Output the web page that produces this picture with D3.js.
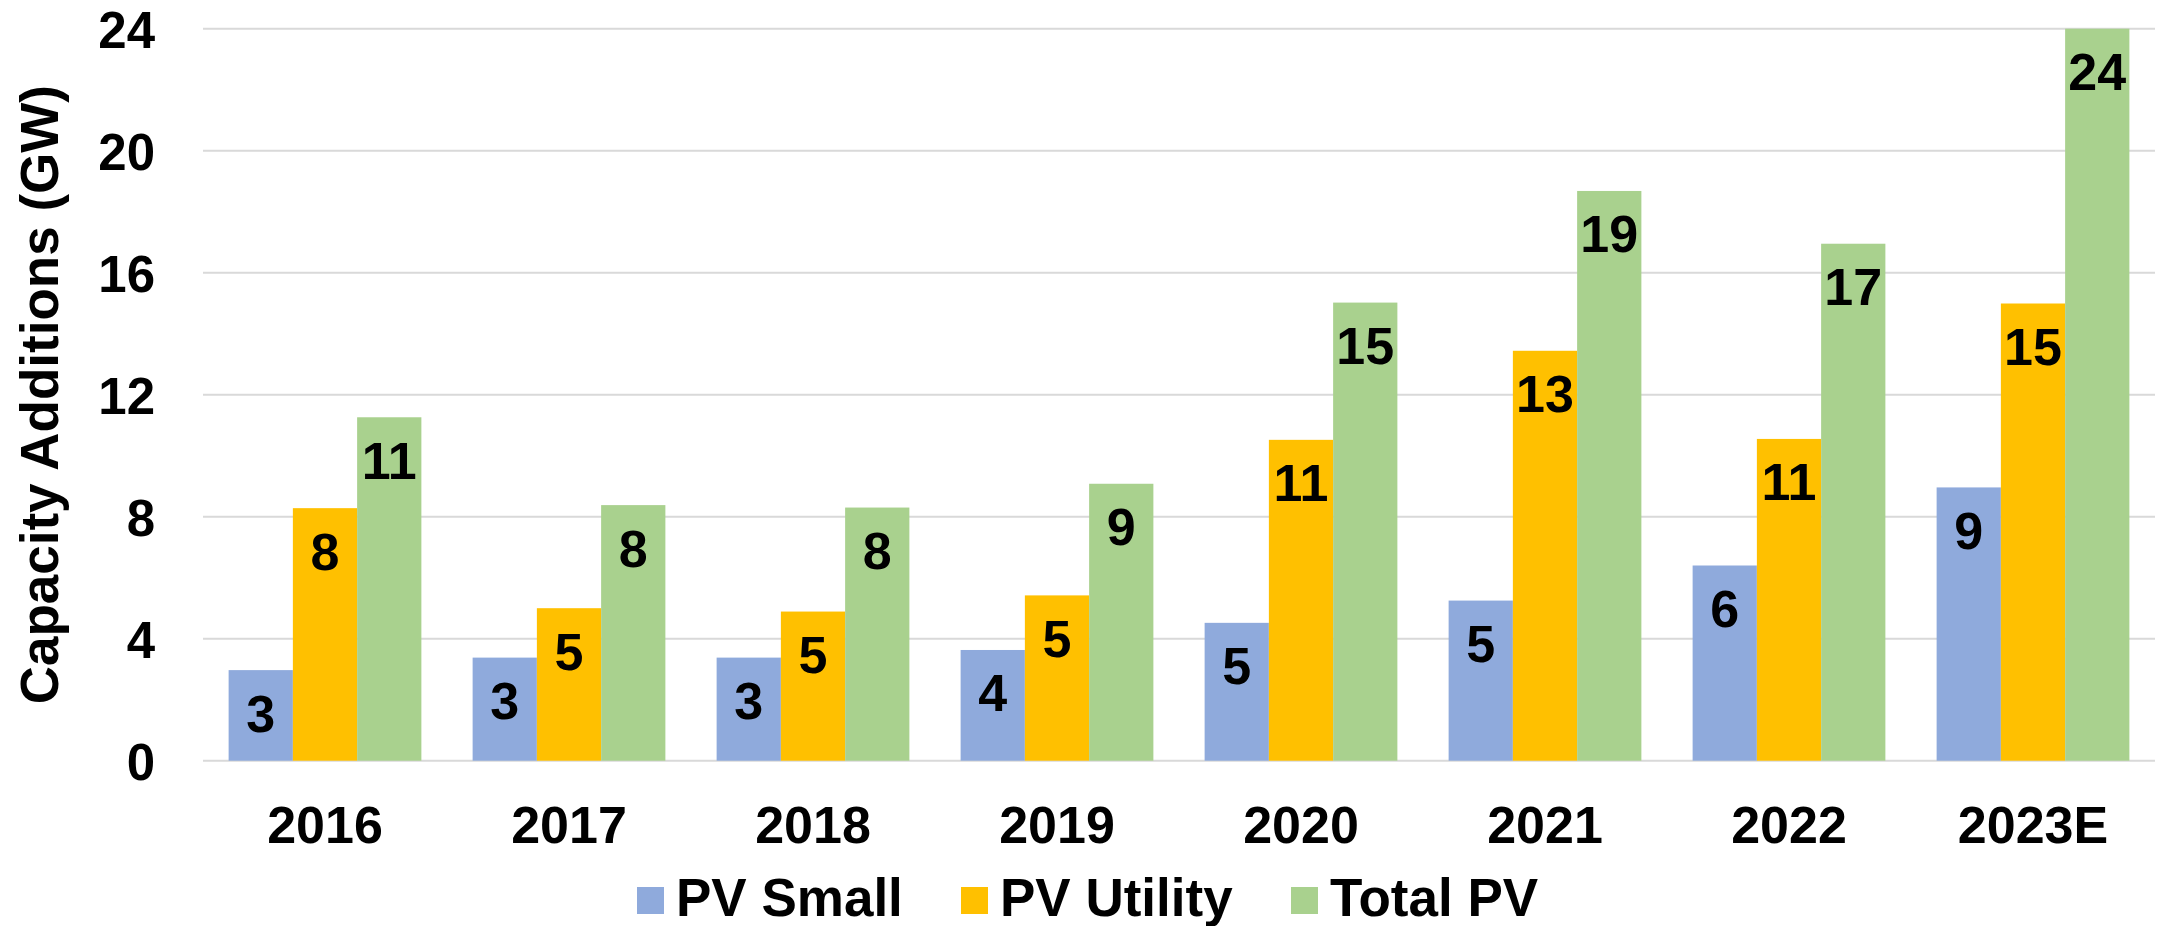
<!DOCTYPE html>
<html>
<head>
<meta charset="utf-8">
<script src="https://cdn.jsdelivr.net/npm/d3@7"></script>
<style>
  html, body { margin: 0; padding: 0; background: #ffffff; }
  svg { display: block; }
  text { font-family: "Liberation Sans", Arial, Helvetica, sans-serif; font-weight: bold; fill: #000; }
</style>
</head>
<body>
<script>
const categories = ["2016", "2017", "2018", "2019", "2020", "2021", "2022", "2023E"];
const seriesNames = ["PV Small", "PV Utility", "Total PV"];
const pvSmall   = [2.97, 3.38, 3.38, 3.63, 4.52, 5.25, 6.40, 8.96];
const pvUtility = [8.28, 5.00, 4.89, 5.42, 10.52, 13.44, 10.55, 14.99];
const totalPV   = [11.26, 8.38, 8.30, 9.08, 15.02, 18.68, 16.95, 24.00];
const yTicks = [0, 4, 8, 12, 16, 20, 24];
const colors = ["#8FAADC", "#FFC000", "#A9D18E"];

const W = 2158, H = 926;
const plot = { left: 203, right: 2155, top: 28.7, bottom: 760.7 };

const svg = d3.select("body").append("svg").attr("width", W).attr("height", H);

const x0 = d3.scaleBand().domain(categories).range([plot.left, plot.right])
  .paddingInner(0.21).paddingOuter(0.105);
const x1 = d3.scaleBand().domain(seriesNames).range([0, x0.bandwidth()]).padding(0);
const y = d3.scaleLinear().domain([0, 24]).range([plot.bottom, plot.top]);

// gridlines
svg.append("g").selectAll("line").data(yTicks).join("line")
  .attr("x1", plot.left).attr("x2", plot.right)
  .attr("y1", d => y(d)).attr("y2", d => y(d))
  .attr("stroke", "#D9D9D9").attr("stroke-width", 2);

// y axis tick labels
const yAxis = d3.axisLeft(y).tickValues(yTicks).tickSize(0).tickPadding(0);
const gy = svg.append("g").attr("transform", `translate(155,0)`).call(yAxis);
gy.select(".domain").remove();
gy.selectAll("text").attr("font-size", 51).attr("dy", "0.36em")
  .style("font-family", '"Liberation Sans", Arial, sans-serif').style("font-weight", "bold").attr("fill", "#000");

// x axis labels
const xAxis = d3.axisBottom(x0).tickSize(0).tickPadding(0);
const gx = svg.append("g").attr("transform", `translate(0,${plot.bottom})`).call(xAxis);
gx.select(".domain").remove();
gx.selectAll("text").attr("font-size", 52).attr("y", 82).attr("dy", 0)
  .style("font-family", '"Liberation Sans", Arial, sans-serif').style("font-weight", "bold").attr("fill", "#000");

// bars
const series = [pvSmall, pvUtility, totalPV];
const data = [];
categories.forEach((c, i) => {
  seriesNames.forEach((s, j) => {
    data.push({ cat: c, name: s, value: series[j][i], color: colors[j] });
  });
});

const bars = svg.append("g");
bars.selectAll("rect").data(data).join("rect")
  .attr("x", d => x0(d.cat) + x1(d.name))
  .attr("y", d => y(d.value))
  .attr("width", x1.bandwidth())
  .attr("height", d => y(0) - y(d.value))
  .attr("fill", d => d.color);

// data labels
svg.append("g").selectAll("text").data(data).join("text")
  .attr("x", d => x0(d.cat) + x1(d.name) + x1.bandwidth() / 2)
  .attr("y", d => y(d.value) + 61.5)
  .attr("text-anchor", "middle")
  .attr("font-size", 52)
  .text(d => d3.format(".0f")(d.value));

// axis title
svg.append("text")
  .attr("transform", `translate(58,${(plot.top + plot.bottom) / 2}) rotate(-90)`)
  .attr("text-anchor", "middle")
  .attr("font-size", 53)
  .text("Capacity Additions (GW)");

// legend
const legendX = [637, 961, 1291];
const leg = svg.append("g");
seriesNames.forEach((s, j) => {
  leg.append("rect").attr("x", legendX[j]).attr("y", 887).attr("width", 27).attr("height", 27).attr("fill", colors[j]);
  leg.append("text").attr("x", legendX[j] + 39).attr("y", 916).attr("font-size", 53).text(s);
});
</script>
</body>
</html>
